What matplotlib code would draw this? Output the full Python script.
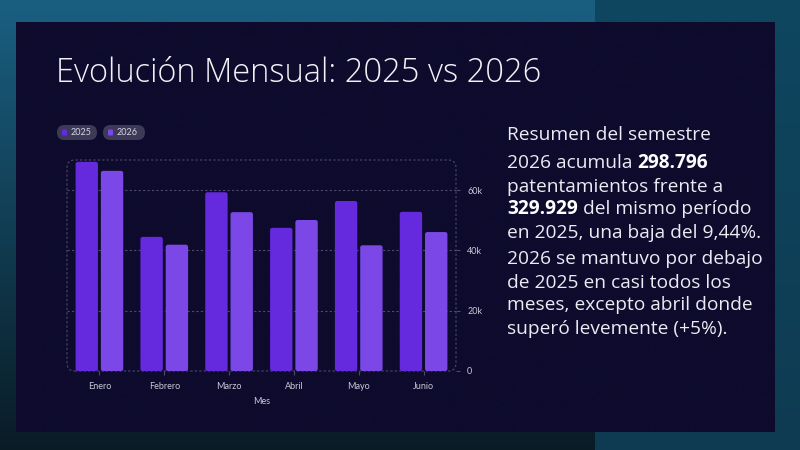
import numpy as np
import matplotlib
matplotlib.use("Agg")
from matplotlib import pyplot as plt
from matplotlib.patches import FancyBboxPatch
from matplotlib.colors import to_rgb

# Datos
meses = ['Enero', 'Febrero', 'Marzo', 'Abril', 'Mayo', 'Junio']
series = ['2025', '2026']
valores_2025 = [69400, 44500, 59300, 47500, 56400, 52800]
valores_2026 = [66400, 41900, 52700, 50100, 41700, 46100]
y_ticks = [0, 20000, 40000, 60000]
y_tick_labels = ['0', '20k', '40k', '60k']

titulo = 'Evolución Mensual: 2025 vs 2026'
resumen = [
    [('Resumen del semestre', 'normal')],
    [('2026 acumula ', 'normal'), ('298.796', 'bold')],
    [('patentamientos frente a', 'normal')],
    [('329.929', 'bold'), (' del mismo período', 'normal')],
    [('en 2025, una baja del 9,44%.', 'normal')],
    [('2026 se mantuvo por debajo', 'normal')],
    [('de 2025 en casi todos los', 'normal')],
    [('meses, excepto abril donde', 'normal')],
    [('superó levemente (+5%).', 'normal')],
]
lineas_y = [135, 163, 186.5, 209.5, 232.5, 259.5, 282.5, 305.5, 328.5]

colores = ['#6529de', '#7b48e7']
TXT = '#c9c7d8'
GRID = '#4d4970'
FONT = 'Lato'
FONT_TXT = 'Open Sans'


def gradiente(ax, x0, x1, y0, y1, c_top, c_bot):
    a, b = np.array(to_rgb(c_top)), np.array(to_rgb(c_bot))
    t = np.linspace(0, 1, 200)[:, None]
    img = (a * (1 - t) + b * t)[:, None, :]
    ax.imshow(img, extent=(x0, x1, y1, y0), aspect='auto', interpolation='bicubic', zorder=0)


fig = plt.figure(figsize=(8, 4.5), dpi=100)

# Fondo (coordenadas en pixeles)
bg = fig.add_axes([0, 0, 1, 1])
bg.axis('off')
gradiente(bg, 0, 595, 0, 450, '#1a5f81', '#091c26')
gradiente(bg, 595, 800, 0, 450, '#0f4660', '#0e3b52')
gradiente(bg, 16, 775, 22, 432, '#0e0b2d', '#0e0b2d')
bg.set_xlim(0, 800)
bg.set_ylim(450, 0)

# Titulo
bg.text(56, 73, titulo, fontsize=23.5, color='#f2f2f7', family=FONT_TXT,
        fontweight='light', va='center', ha='left')

# Leyenda tipo "pill"
pills = [(57, 97), (103, 145)]
for (x0, x1), nombre, col in zip(pills, series, colores):
    bg.add_patch(FancyBboxPatch((x0, 125), x1 - x0, 15,
                                boxstyle='round,pad=0,rounding_size=7.5',
                                fc='#3d3a58', ec='none', zorder=2))
    bg.add_patch(FancyBboxPatch((x0 + 5, 129.5), 5, 6,
                                boxstyle='round,pad=0,rounding_size=1',
                                fc=col, ec='none', zorder=3))
    bg.text(x0 + 14, 132.7, nombre, fontsize=6.5, color='#d6d4e4',
            family=FONT, va='center', ha='left', zorder=3)

# Texto de resumen con partes en negrita
fig.canvas.draw()
renderer = fig.canvas.get_renderer()
for partes, y in zip(resumen, lineas_y):
    x = 507
    for texto, peso in partes:
        t = bg.text(x, y, texto, fontsize=13.8, color='#ecebf3' if peso == 'normal' else 'white',
                    fontweight=peso, family=FONT_TXT, va='center', ha='left')
        bb = t.get_window_extent(renderer=renderer)
        x += bb.width

# Grafico de barras
ax = fig.add_axes([67 / 800, 1 - 371 / 450, (456 - 67) / 800, (371 - 160) / 450])
ax.set_facecolor('none')
xpos = np.arange(len(meses))
ancho = 0.345
for desp, vals, col in zip([-0.195, 0.195], [valores_2025, valores_2026], colores):
    barras = ax.bar(xpos + desp, vals, width=ancho, color=col, zorder=3)
    for r in barras:
        ax.add_patch(FancyBboxPatch((r.get_x(), 0), r.get_width(), r.get_height(),
                                    boxstyle='round,pad=0,rounding_size=0.035',
                                    mutation_aspect=21000, fc=col, ec='none', zorder=3))
        r.remove()

ax.set_xlim(-0.5, len(meses) - 0.5)
ax.set_ylim(0, 70000)
for s in ax.spines.values():
    s.set_visible(False)
ax.add_patch(FancyBboxPatch((0, 0), 1, 1, boxstyle='round,pad=0,rounding_size=0.02',
                            mutation_aspect=1.84, transform=ax.transAxes,
                            fc='none', ec=GRID, lw=0.8, ls=(0, (2, 2)), zorder=1,
                            clip_on=False))
ax.set_yticks(y_ticks)
ax.set_yticklabels(y_tick_labels)
ax.yaxis.tick_right()
ax.grid(axis='y', color=GRID, lw=0.8, ls=(0, (2, 2)), zorder=1)
ax.set_xticks(xpos)
ax.set_xticklabels(meses)
ax.tick_params(axis='both', colors=GRID, labelcolor=TXT, labelsize=6.5, length=3, width=0.8)
ax.tick_params(axis='x', pad=5)
ax.tick_params(axis='y', pad=5)
for lbl in ax.get_xticklabels() + ax.get_yticklabels():
    lbl.set_family(FONT)
ax.set_xlabel('Mes', fontsize=6.5, color=TXT, family=FONT, labelpad=4)

fig.savefig('out.png', dpi=100)
